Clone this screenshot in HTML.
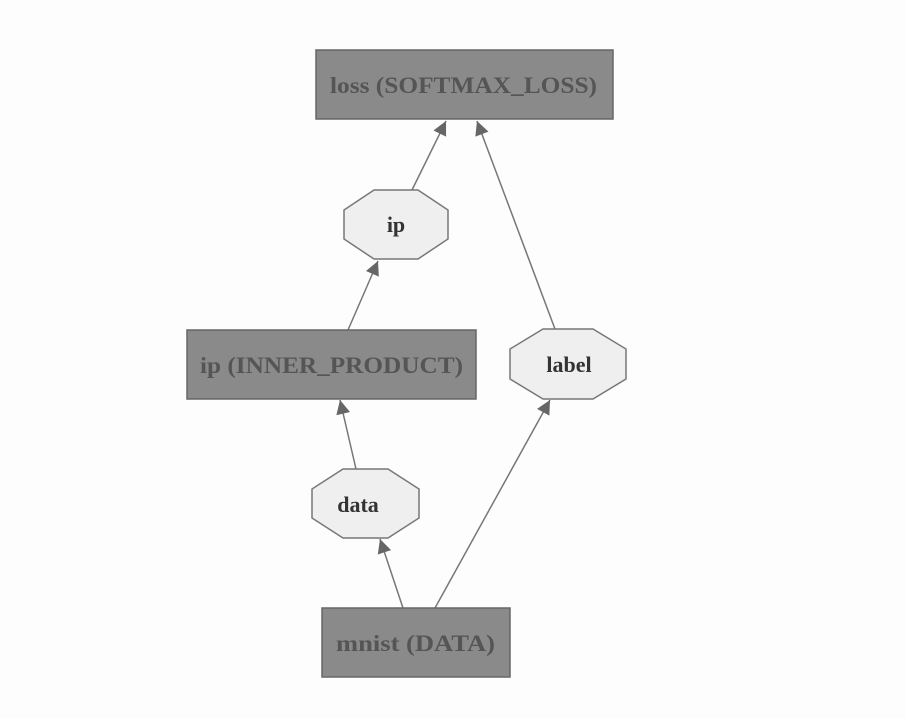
<!DOCTYPE html>
<html><head><style>body{margin:0;background:#fff}svg{display:block}</style></head><body>
<svg width="906" height="718" viewBox="0 0 906 718" xmlns="http://www.w3.org/2000/svg" font-family="Liberation Serif, serif">
<defs>
<marker id="b" viewBox="0 0 10 10" markerWidth="16" markerHeight="14" refX="10" refY="5" orient="auto" markerUnits="userSpaceOnUse"><path d="M0,0 L10,5 L0,10 z" fill="#666"/></marker></defs>
<g fill="#fdfdfd"><rect width="906" height="718"/></g>
<g stroke="#777" stroke-width="1.5" fill="none" marker-end="url(#b)">
<line x1="412" y1="190" x2="446" y2="121"/>
<line x1="348" y1="330" x2="378" y2="261"/>
<line x1="555" y1="329" x2="477" y2="121"/>
<line x1="356" y1="469" x2="340" y2="400"/>
<line x1="403" y1="608" x2="380" y2="539"/>
<line x1="435" y1="608" x2="550" y2="400"/>
</g>
<g fill="#8a8a8a" stroke="#666" stroke-width="1.5">
<rect x="316" y="50" width="297" height="69"/>
<rect x="187" y="330" width="289" height="69"/>
<rect x="322" y="608" width="188" height="69"/>
</g>
<g fill="#efefef" stroke="#777" stroke-width="1.5">
<polygon points="374,190 418,190 448,210 448,239 418,259 374,259 344,239 344,210"/>
<polygon points="543,329 593,329 626,349 626,379 593,399 543,399 510,379 510,349"/>
<polygon points="343,469 388,469 419,489 419,518 388,538 343,538 312,518 312,489"/>
</g>
<g fill="#555" font-size="23" font-weight="bold">
<text x="330" y="93" textLength="267" lengthAdjust="spacingAndGlyphs">loss (SOFTMAX_LOSS)</text>
<text x="200" y="373" textLength="263" lengthAdjust="spacingAndGlyphs">ip (INNER_PRODUCT)</text>
<text x="336" y="651" textLength="159" lengthAdjust="spacingAndGlyphs">mnist (DATA)</text>
</g>
<g fill="#333" font-size="22" font-weight="bold" text-anchor="middle">
<text x="396" y="232">ip</text>
<text x="569" y="372">label</text>
<text x="358" y="512">data</text>
</g>
</svg>
</body></html>
